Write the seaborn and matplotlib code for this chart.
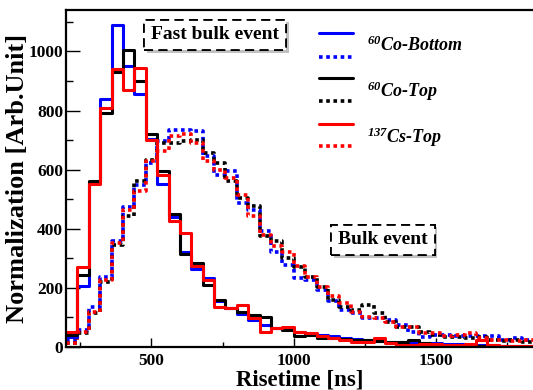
import numpy as np
import pandas as pd
import matplotlib
matplotlib.use("Agg")
import matplotlib.pyplot as plt
import seaborn as sns
from matplotlib.ticker import MultipleLocator
import matplotlib.patheffects as pe

# ---- data: histogram bins (40 ns wide) ----
bin_edges = np.arange(200, 1841, 40)
bin_starts = bin_edges[:-1]

# Solid lines: "Fast bulk event"
co60_bottom_fast = [35, 205, 555, 840, 1090, 950, 855, 705, 550, 440,
                    320, 265, 233, 154, 131, 112, 92, 75, 63, 60,
                    50, 45, 40, 38, 32, 28, 24, 20, 18, 16,
                    14, 12, 12, 10, 10, 8, 8, 6, 5, 5, 5]
co60_top_fast = [42, 245, 560, 790, 930, 1005, 900, 720, 595, 450,
                 315, 285, 210, 159, 131, 120, 108, 103, 63, 58,
                 37, 40, 32, 30, 28, 25, 22, 20, 16, 16,
                 22, 12, 8, 7, 6, 6, 5, 5, 4, 4, 4]
cs137_top_fast = [52, 270, 550, 810, 940, 870, 945, 700, 583, 425,
                  385, 275, 225, 137, 131, 142, 97, 52, 63, 69,
                  50, 48, 38, 30, 22, 16, 16, 30, 12, 8,
                  8, 10, 10, 8, 8, 10, 22, 7, 5, 5, 5]

# Dotted lines: "Bulk event"
co60_bottom_bulk = [24, 58, 137, 238, 357, 472, 549, 622, 696, 733,
                    733, 730, 645, 583, 594, 487, 464, 391, 323, 278,
                    233, 227, 193, 154, 125, 114, 97, 97, 92, 75,
                    52, 35, 41, 41, 36, 36, 36, 38, 24, 30, 24]
co60_top_bulk = [12, 46, 114, 221, 346, 442, 560, 634, 690, 690,
                 697, 700, 656, 623, 560, 504, 476, 374, 357, 301,
                 272, 238, 204, 160, 137, 125, 142, 114, 86, 69,
                 69, 52, 41, 33, 33, 30, 33, 25, 20, 22, 18]
cs137_top_bulk = [15, 52, 120, 227, 351, 464, 527, 628, 662, 715,
                  719, 690, 628, 600, 572, 515, 444, 380, 340, 323,
                  275, 238, 204, 171, 148, 120, 103, 97, 86, 69,
                  69, 46, 46, 36, 41, 46, 30, 24, 24, 20, 22]

legend_labels = [r"$^{60}$Co-Bottom", r"$^{60}$Co-Top", r"$^{137}$Cs-Top"]
colors = ["#0000ff", "#000000", "#ff0000"]

sns.set_style("white")
plt.rcParams["font.family"] = ["Liberation Serif", "DejaVu Serif"]
plt.rcParams["font.weight"] = "bold"
plt.rcParams["text.color"] = "black"
plt.rcParams["axes.labelcolor"] = "black"
plt.rcParams["xtick.color"] = "black"
plt.rcParams["ytick.color"] = "black"
plt.rcParams["mathtext.fontset"] = "custom"
plt.rcParams["mathtext.rm"] = "Liberation Serif:bold:italic"
plt.rcParams["mathtext.it"] = "Liberation Serif:bold:italic"
plt.rcParams["mathtext.bf"] = "Liberation Serif:bold:italic"

fig = plt.figure(figsize=(5.33, 3.9), dpi=100)
ax = fig.add_axes([66 / 533, 43 / 390, 467 / 533, 337 / 390])

centers = bin_starts + 20
dotted = (0, (1, 1))
series = [
    (co60_bottom_bulk, colors[0], dotted, 2.6),
    (co60_top_bulk, colors[1], dotted, 2.6),
    (cs137_top_bulk, colors[2], dotted, 2.6),
    (co60_bottom_fast, colors[0], "-", 2.2),
    (co60_top_fast, colors[1], "-", 2.2),
    (cs137_top_fast, colors[2], "-", 2.2),
]
for vals, c, ls, lw in series:
    df = pd.DataFrame({"risetime": centers, "count": vals})
    sns.histplot(data=df, x="risetime", weights="count", binwidth=40,
                 binrange=(200, 1840), element="step", fill=False,
                 color=c, linestyle=ls, linewidth=lw, ax=ax)

ax.set_xlim(200, 1840)
ax.set_ylim(0, 1140)
ax.xaxis.set_major_locator(MultipleLocator(500))
ax.xaxis.set_minor_locator(MultipleLocator(250))
ax.yaxis.set_major_locator(MultipleLocator(200))
ax.yaxis.set_minor_locator(MultipleLocator(100))
ax.tick_params(axis="x", which="major", direction="in", length=6.5, width=1.0,
               labelsize=12.5, pad=4, bottom=True, top=False, colors="black")
ax.tick_params(axis="x", which="minor", direction="in", length=3.5, width=1.0,
               bottom=True, top=False, colors="black")
ax.tick_params(axis="y", which="major", direction="in", length=10, width=1.0,
               labelsize=12.5, pad=2, left=True, right=False, colors="black")
ax.tick_params(axis="y", which="minor", direction="in", length=5, width=1.0,
               left=True, right=False, colors="black")
for lab in ax.get_xticklabels() + ax.get_yticklabels():
    lab.set_fontweight("bold")

for s in ["left", "bottom", "top"]:
    ax.spines[s].set_linewidth(1.6)
    ax.spines[s].set_color("black")
ax.spines["right"].set_visible(False)

ax.set_xlabel("Risetime [ns]", fontsize=16.5, fontweight="bold", labelpad=1,
              color="black")
ax.set_ylabel("Normalization [Arb.Unit]", fontsize=19, fontweight="bold",
              labelpad=0, color="black")

# legend (manual, two line styles per entry)
x0, x1 = (319 - 66) / 467, (353 - 66) / 467
rows = [(33, 57, 45), (78, 101, 91), (124, 146, 137)]
fs = lambda p: (347 - p) / 337
for (ys, yd, yt), c, lab in zip(rows, colors, legend_labels):
    ax.plot([x0, x1], [fs(ys)] * 2, color=c, lw=2.2, transform=ax.transAxes, clip_on=False)
    ax.plot([x0, x1], [fs(yd)] * 2, color=c, lw=2.6, ls=dotted, transform=ax.transAxes, clip_on=False)
    ax.text((367 - 66) / 467, fs(yt), lab, transform=ax.transAxes, fontsize=13,
            fontweight="bold", fontstyle="italic", ha="left", va="center",
            color="black")

shadow = [pe.withSimplePatchShadow(offset=(2, -2), shadow_rgbFace="0.6", alpha=0.6), pe.Normal()]
for txt, px, py in [("Fast bulk event", 215, 35), ("Bulk event", 383, 240)]:
    t = ax.text((px - 66) / 467, (347 - py) / 337, txt, transform=ax.transAxes,
                fontsize=14, fontweight="bold", ha="center", va="center",
                color="black",
                bbox=dict(boxstyle="square,pad=0.35", fc="white", ec="black",
                          ls=(0, (5, 3)), lw=1.3))
    t.get_bbox_patch().set_path_effects(shadow)

fig.savefig("out.png", dpi=100)
